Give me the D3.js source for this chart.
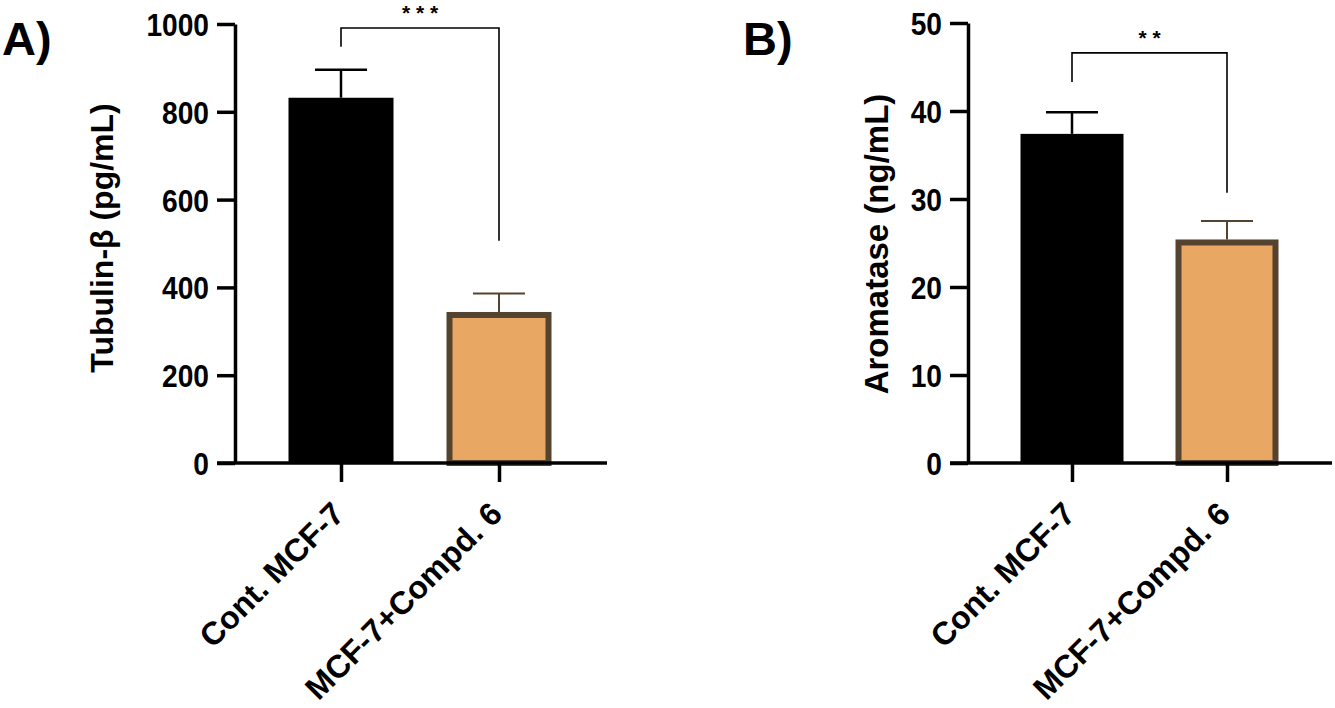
<!DOCTYPE html>
<html>
<head>
<meta charset="utf-8">
<script src="https://cdn.jsdelivr.net/npm/d3@7"></script>
<style>
  html, body { margin: 0; padding: 0; background: #fff; }
  svg { display: block; }
  .tick-num { font-family: "Liberation Sans", Arial, sans-serif; font-weight: bold; }
  .lbl { font-family: "Liberation Sans", Arial, Helvetica, sans-serif; font-weight: bold; }
</style>
</head>
<body>
<div id="chart"></div>
<script>
// categories shared by both panels
const categories = ['Cont. MCF-7', 'MCF-7+Compd. 6'];

// Panel A: Tubulin-β (pg/mL)
const tubulinMean = [832, 344];
const tubulinErr = [64, 42];
const tubulinTicks = [0, 200, 400, 600, 800, 1000];
// significance bracket: [top, left leg end, right leg end]
const tubulinBracket = [991, 948, 506];

// Panel B: Aromatase (ng/mL)
const aromataseMean = [37.4, 25.4];
const aromataseErr = [2.45, 2.1];
const aromataseTicks = [0, 10, 20, 30, 40, 50];
const aromataseBracket = [46.6, 43.3, 30.7];

const W = 1335, H = 708;
const svg = d3.select('#chart').append('svg')
  .attr('width', W).attr('height', H)
  .attr('viewBox', `0 0 ${W} ${H}`);

const FILL = ['#000000', '#e8a863'];
const EDGE = ['#000000', '#54432f'];
const NARROW = 0.88; // squeeze tick numbers like a condensed face

function drawPanel(opt) {
  const g = svg.append('g');
  const y = d3.scaleLinear().domain([0, opt.max]).range([463, opt.top]);
  const x = d3.scalePoint().domain(categories).range(opt.centers);
  const bw = opt.barWidth;

  // y axis
  const yAxis = d3.axisLeft(y).tickValues(opt.ticks).tickFormat(d3.format('d'))
    .tickSize(18).tickSizeOuter(0).tickPadding(7);
  const ya = g.append('g').attr('transform', `translate(${opt.axisX},0)`).call(yAxis);
  ya.select('.domain').attr('stroke', '#000').attr('stroke-width', 3.5);
  ya.selectAll('.tick line').attr('stroke', '#000').attr('stroke-width', 3.5);
  ya.selectAll('.tick text').attr('class', 'tick-num').attr('font-size', 32)
    .attr('fill', '#000').attr('dy', '0.36em')
    .attr('x', -26 / NARROW)
    .attr('transform', `scale(${NARROW},1)`);

  // bars
  opt.mean.forEach((v, i) => {
    const cx = x(categories[i]);
    if (i === 0) {
      g.append('rect').attr('x', cx - bw / 2).attr('y', y(v))
        .attr('width', bw).attr('height', y(0) - y(v)).attr('fill', FILL[0]);
    } else {
      const sw = 6;
      g.append('rect').attr('x', cx - bw / 2 + sw / 2).attr('y', y(v) + sw / 2)
        .attr('width', bw - sw).attr('height', y(0) - y(v) - sw / 2)
        .attr('fill', FILL[1]).attr('stroke', EDGE[1]).attr('stroke-width', sw);
    }
    // error bar (upper only)
    const top = y(v + opt.err[i]);
    const ec = EDGE[i];
    const ew = i === 0 ? 2.5 : 2;
    g.append('line').attr('x1', cx).attr('x2', cx).attr('y1', y(v)).attr('y2', top)
      .attr('stroke', ec).attr('stroke-width', ew);
    g.append('line').attr('x1', cx - 26).attr('x2', cx + 26).attr('y1', top).attr('y2', top)
      .attr('stroke', ec).attr('stroke-width', ew);
  });

  // x axis baseline and ticks
  g.append('line').attr('x1', opt.axisX - 18).attr('x2', opt.axisEnd)
    .attr('y1', y(0)).attr('y2', y(0)).attr('stroke', '#000').attr('stroke-width', 3.5);
  const xAxis = d3.axisBottom(x).tickSize(19).tickSizeOuter(0).tickFormat('');
  const xa = g.append('g').attr('transform', `translate(0,${y(0)})`).call(xAxis);
  xa.select('.domain').remove();
  xa.selectAll('.tick line').attr('stroke', '#000').attr('stroke-width', 3.5);

  // rotated category labels
  categories.forEach(c => {
    const px = x(c) + 5, py = 516;
    g.append('text').attr('class', 'lbl').attr('font-size', 32)
      .attr('text-anchor', 'end')
      .attr('transform', `translate(${px},${py}) rotate(-45)`)
      .text(c);
  });

  // y title
  g.append('text').attr('class', 'lbl').attr('font-size', opt.titleSize)
    .attr('text-anchor', 'middle')
    .attr('transform', `translate(${opt.titleX},${opt.titleY}) rotate(-90)`)
    .text(opt.title);

  // panel letter
  g.append('text').attr('class', 'lbl').attr('font-size', 47)
    .attr('x', opt.letterX).attr('y', 55).text(opt.letter);

  // significance bracket
  const [bt, bl, br] = opt.bracket;
  const x0 = x(categories[0]), x1 = x(categories[1]);
  g.append('path')
    .attr('d', d3.line()([[x0, y(bl)], [x0, y(bt)], [x1, y(bt)], [x1, y(br)]]))
    .attr('fill', 'none').attr('stroke', '#000').attr('stroke-width', 1.6);
  g.append('text').attr('x', (x0 + x1) / 2).attr('y', y(bt) - 8)
    .attr('text-anchor', 'middle')
    .attr('font-family', 'Liberation Sans, Arial, sans-serif')
    .attr('font-weight', 'bold')
    .attr('font-size', 21).text(opt.stars);
}

drawPanel({
  max: 1000, top: 24, ticks: tubulinTicks, mean: tubulinMean, err: tubulinErr,
  axisX: 235, axisEnd: 607, centers: [341, 499], barWidth: 105,
  title: 'Tubulin-β (pg/mL)', titleSize: 32, titleX: 113, titleY: 238,
  letter: 'A)', letterX: 2, bracket: tubulinBracket, stars: '* * *'
});

drawPanel({
  max: 50, top: 23, ticks: aromataseTicks, mean: aromataseMean, err: aromataseErr,
  axisX: 968, axisEnd: 1332, centers: [1072, 1227], barWidth: 103,
  title: 'Aromatase (ng/mL)', titleSize: 33, titleX: 888, titleY: 244,
  letter: 'B)', letterX: 743, bracket: aromataseBracket, stars: '* *'
});
</script>
</body>
</html>
